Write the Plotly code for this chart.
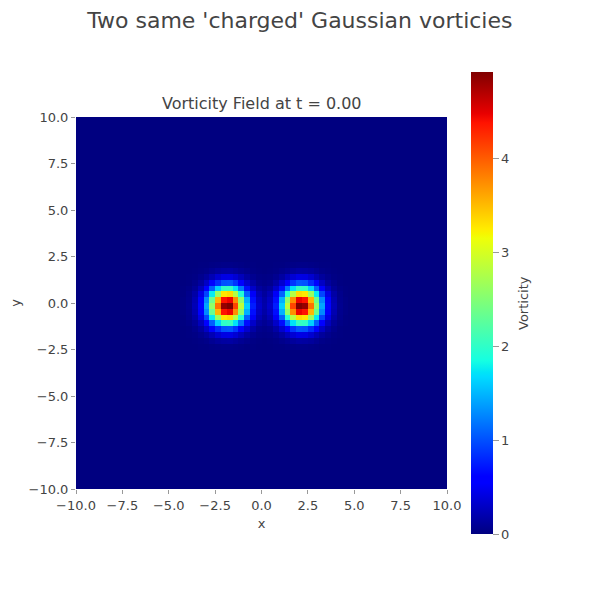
import numpy as np
import plotly.graph_objects as go

# grid: 64 x 64 cells over [-10, 10] x [-10, 10]
N = 64
L = 10.0
dx = 2 * L / N

# vorticity around one vortex (one row per grid row,
# row0 = row through the peak, row7 = seven rows away)
row0 = [0.02, 0.07, 0.23, 0.63, 1.41, 2.58, 3.89, 4.83, 4.92, 4.13, 2.85, 1.62, 0.75, 0.29, 0.09, 0.02]
row1 = [0.02, 0.06, 0.21, 0.57, 1.28, 2.34, 3.53, 4.38, 4.46, 3.74, 2.58, 1.47, 0.68, 0.26, 0.08, 0.02]
row2 = [0.01, 0.05, 0.16, 0.43, 0.95, 1.75, 2.63, 3.27, 3.33, 2.79, 1.93, 1.09, 0.51, 0.20, 0.06, 0.02]
row3 = [0.01, 0.03, 0.10, 0.26, 0.59, 1.07, 1.62, 2.00, 2.04, 1.71, 1.18, 0.67, 0.31, 0.12, 0.04, 0.01]
row4 = [0.00, 0.01, 0.05, 0.13, 0.30, 0.54, 0.82, 1.01, 1.03, 0.87, 0.60, 0.34, 0.16, 0.06, 0.02, 0.00]
row5 = [0.00, 0.01, 0.02, 0.06, 0.12, 0.22, 0.34, 0.42, 0.43, 0.36, 0.25, 0.14, 0.07, 0.03, 0.01, 0.00]
row6 = [0.00, 0.00, 0.01, 0.02, 0.04, 0.08, 0.12, 0.14, 0.15, 0.12, 0.08, 0.05, 0.02, 0.01, 0.00, 0.00]
row7 = [0.00, 0.00, 0.00, 0.01, 0.01, 0.02, 0.03, 0.04, 0.04, 0.03, 0.02, 0.01, 0.01, 0.00, 0.00, 0.00]

patch = np.array([row7, row6, row5, row4, row3, row2, row1, row0,
                  row1, row2, row3, row4, row5, row6, row7])

# where the two vortices sit on the grid (first row / first column of each patch)
patch_row = 24
left_col = 18
right_col = 31

z = np.zeros((N, N))
h, w = patch.shape
z[patch_row:patch_row + h, left_col:left_col + w] += patch
z[patch_row:patch_row + h, right_col:right_col + w] += patch[:, ::-1]

# matplotlib-style jet
jet_r = [(0, 0), (0.35, 0), (0.66, 1), (0.89, 1), (1, 0.5)]
jet_g = [(0, 0), (0.125, 0), (0.375, 1), (0.64, 1), (0.91, 0), (1, 0)]
jet_b = [(0, 0.5), (0.11, 1), (0.34, 1), (0.65, 0), (1, 0)]


def chan(seg, s):
    return np.interp(s, [p[0] for p in seg], [p[1] for p in seg])


stops = sorted(set(p[0] for p in jet_r + jet_g + jet_b))
jet = [[s, "rgb(%d,%d,%d)" % (round(255 * chan(jet_r, s)), round(255 * chan(jet_g, s)),
                              round(255 * chan(jet_b, s)))] for s in stops]

ticks = [-10, -7.5, -5, -2.5, 0, 2.5, 5, 7.5, 10]
font = "DejaVu Sans"
grey = "#444"

fig = go.Figure(go.Heatmap(
    z=z, x0=-L + dx / 2, dx=dx, y0=-L + dx / 2, dy=dx,
    colorscale=jet, zmin=0,
    colorbar=dict(
        thickness=22, len=462, lenmode="pixels",
        x=1.0647, xanchor="left", y=0.5, yanchor="middle",
        xpad=0, ypad=0, outlinewidth=0,
        ticks="outside", ticklen=6, tickcolor="#999",
        tickvals=[0, 1, 2, 3, 4], tickfont=dict(size=13, color=grey),
    ),
))

axis = dict(range=[-10, 10], tickvals=ticks, tickformat=".1f", ticks="outside",
            ticklen=4, tickcolor="#999", showgrid=False, zeroline=False, showline=False,
            automargin=False, tickfont=dict(size=13, color=grey))

fig.update_xaxes(title=dict(text="x", standoff=7, font=dict(size=13, color=grey)), **axis)
fig.update_yaxes(title=dict(text="y", standoff=22, font=dict(size=13, color=grey)), **axis)

fig.add_annotation(text="Vorticity Field at t = 0.00", x=0.5, y=1, xref="paper", yref="paper",
                   xanchor="center", yanchor="bottom", yshift=2, showarrow=False,
                   font=dict(size=16, color=grey))
fig.add_annotation(text="Vorticity", x=1.2048, y=0.5, xref="paper", yref="paper",
                   xanchor="center", yanchor="middle", textangle=-90, showarrow=False,
                   font=dict(size=13, color=grey))

# the page puts the figure 8 px in from the top-left corner
fig.update_layout(
    width=592, height=592,
    margin=dict(l=68, r=153, t=109, b=111),
    title=dict(text="Two same 'charged' Gaussian vorticies", x=0.493, xanchor="center",
               y=0.9797, yanchor="middle", font=dict(size=22, color=grey)),
    font=dict(family=font, color=grey),
    paper_bgcolor="white", plot_bgcolor="white",
)

fig.write_html("out.html")
